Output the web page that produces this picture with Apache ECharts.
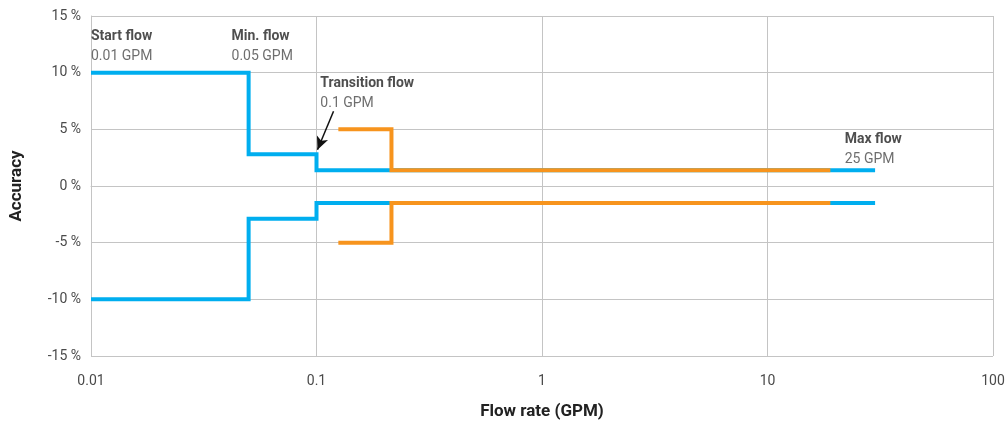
<!DOCTYPE html>
<html><head><meta charset="utf-8">
<script src="https://cdn.jsdelivr.net/npm/echarts@6/dist/echarts.min.js"></script>
<style>html,body{margin:0;padding:0;background:#fff}#c{width:1008px;height:427px}</style>
</head><body><div id="c"></div>
<script>
// Data
const blueUpper = [[0.01, 10], [0.05, 2.8], [0.1, 1.4], [30, 1.4]];
const blueLower = [[0.01, -10], [0.05, -2.9], [0.1, -1.5], [30, -1.5]];
const orangeUpper = [[0.125, 5], [0.215, 1.4], [19, 1.4]];
const orangeLower = [[0.125, -5], [0.215, -1.5], [19, -1.5]];
const annotations = [
  {title: 'Start flow', sub: '0.01 GPM', x: 0.01, y: 12.3},
  {title: 'Min. flow', sub: '0.05 GPM', x: 0.042, y: 12.3},
  {title: 'Transition flow', sub: '0.1 GPM', x: 0.104, y: 8.15},
  {title: 'Max flow', sub: '25 GPM', x: 22, y: 3.2}
];
const arrowFrom = [0.119, 6.6];
const arrowTo = [0.101, 3.2];

const BLUE = '#00AEEF', ORANGE = '#F7941D';
const FONT = 'Roboto';
const chart = echarts.init(document.getElementById('c'), null, {renderer: 'canvas'});

function stepSeries(data, color, z) {
  return {type: 'line', step: 'end', data: data, symbol: 'none', z: z,
    lineStyle: {color: color, width: 4, join: 'miter', cap: 'butt'}, animation: false};
}

chart.setOption({
  animation: false,
  grid: {left: 90, right: 15, top: 16, bottom: 71},
  xAxis: {
    type: 'log', min: 0.01, max: 100, logBase: 10,
    name: 'Flow rate (GPM)', nameLocation: 'middle', nameGap: 47,
    nameTextStyle: {fontFamily: FONT, fontWeight: 'bold', fontSize: 17, color: '#222'},
    axisLine: {show: true, lineStyle: {color: '#c4c4c4'}},
    axisTick: {show: false},
    minorTick: {show: false},
    axisLabel: {fontFamily: FONT, fontSize: 14, color: '#4a4a4a', margin: 18,
      formatter: v => String(+v.toPrecision(3))},
    splitLine: {show: true, lineStyle: {color: '#c4c4c4', width: 1}}
  },
  yAxis: {
    type: 'value', min: -15, max: 15, interval: 5,
    name: 'Accuracy', nameLocation: 'middle', nameGap: 66, nameRotate: 90,
    nameTextStyle: {fontFamily: FONT, fontWeight: 'bold', fontSize: 17, color: '#222'},
    axisLine: {show: true, lineStyle: {color: '#c4c4c4'}},
    axisTick: {show: false},
    axisLabel: {fontFamily: FONT, fontSize: 14, color: '#4a4a4a', margin: 10,
      formatter: v => v + ' %'},
    splitLine: {show: true, lineStyle: {color: '#c4c4c4', width: 1}}
  },
  series: [
    stepSeries(blueUpper, BLUE, 2),
    stepSeries(blueLower, BLUE, 2),
    stepSeries(orangeUpper, ORANGE, 3),
    stepSeries(orangeLower, ORANGE, 3),
    {
      type: 'scatter', data: annotations.map(a => ({value: [a.x, a.y], a: a})),
      symbolSize: 0, z: 5, silent: true,
      label: {show: true, position: 'right', distance: 0, align: 'left',
        formatter: p => '{t|' + p.data.a.title + '}\n{s|' + p.data.a.sub + '}',
        rich: {
          t: {fontFamily: FONT, fontWeight: 'bold', fontSize: 14, color: '#222', lineHeight: 20},
          s: {fontFamily: FONT, fontSize: 14, color: '#4a4a4a', lineHeight: 20}
        }
      }
    },
    {
      type: 'line', data: [], z: 6,
      markLine: {silent: true, symbol: ['none', 'arrow'], symbolSize: [9, 13],
        label: {show: false},
        lineStyle: {color: '#111', width: 1.5, type: 'solid'},
        data: [[{coord: arrowFrom}, {coord: arrowTo}]]}
    }
  ]
});
</script></body></html>
